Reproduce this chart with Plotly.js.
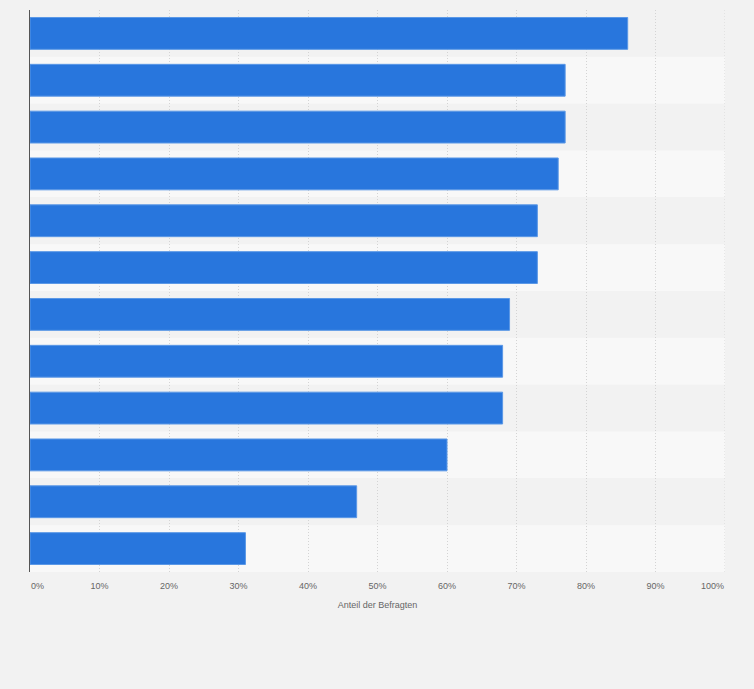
<!DOCTYPE html>
<html>
<head>
<meta charset="utf-8">
<script src="https://cdn.plot.ly/plotly-3.0.1.min.js"></script>
<style>html,body{margin:0;padding:0;background:#f2f2f2;}#chart{width:754px;height:689px;}</style>
</head>
<body>
<div id="chart"></div>
<script>
// Categories (labels not shown in the reference), top to bottom
const categories = ["A1","A2","A3","A4","A5","A6","A7","A8","A9","A10","A11","A12"];
const values = [86, 77, 77, 76, 73, 73, 69, 68, 68, 60, 47, 31];
const tickVals = [0,10,20,30,40,50,60,70,80,90,100];
const nb = n => "\u00a0".repeat(n);
const tickText = [nb(6) + "0%","10%","20%","30%","40%","50%","60%","70%","80%","90%","100%" + nb(10)];

const shapes = categories.map((c, i) => ({
  type: 'rect', xref: 'paper', yref: 'y', layer: 'below',
  x0: 0, x1: 1, y0: i - 0.5, y1: i + 0.5,
  fillcolor: i % 2 === 0 ? '#f2f2f2' : '#f8f8f8',
  line: {width: 0}
}));
// right-most (100%) gridline
shapes.push({type: 'line', xref: 'x', yref: 'paper', layer: 'below',
  x0: 100, x1: 100, y0: 0, y1: 1, line: {color: '#d4d4d4', width: 1, dash: '1px,2px'}});

const trace = {
  type: 'bar', orientation: 'h',
  x: values, y: categories.map((c, i) => i),
  marker: {color: '#2876dd', line: {color: '#5b98e6', width: 1}},
  hoverinfo: 'x'
};

const layout = {
  width: 754, height: 689,
  paper_bgcolor: '#f2f2f2', plot_bgcolor: '#f2f2f2',
  margin: {l: 30, r: 29, t: 10, b: 117},
  bargap: 0.32,
  showlegend: false,
  font: {family: 'Liberation Sans, Arial, sans-serif', color: '#666', size: 9},
  shapes: shapes,
  xaxis: {
    range: [0, 100], tickvals: tickVals, ticktext: tickText,
    showgrid: true, gridcolor: '#d4d4d4', griddash: '1px,2px', gridwidth: 1,
    zeroline: false, showline: false, ticks: 'outside', ticklen: 5, tickcolor: 'rgba(0,0,0,0)',
    tickfont: {size: 9, color: '#666'},
    title: {text: 'Anteil der Befragten', font: {size: 9, color: '#666'}, standoff: 11},
    fixedrange: true
  },
  yaxis: {
    autorange: false, range: [categories.length - 0.5, -0.5],
    showticklabels: false, showgrid: false, zeroline: false,
    showline: true, linecolor: '#555', linewidth: 1.5, ticks: '',
    fixedrange: true
  }
};

Plotly.newPlot('chart', [trace], layout, {displayModeBar: false, staticPlot: true});
</script>
</body>
</html>
